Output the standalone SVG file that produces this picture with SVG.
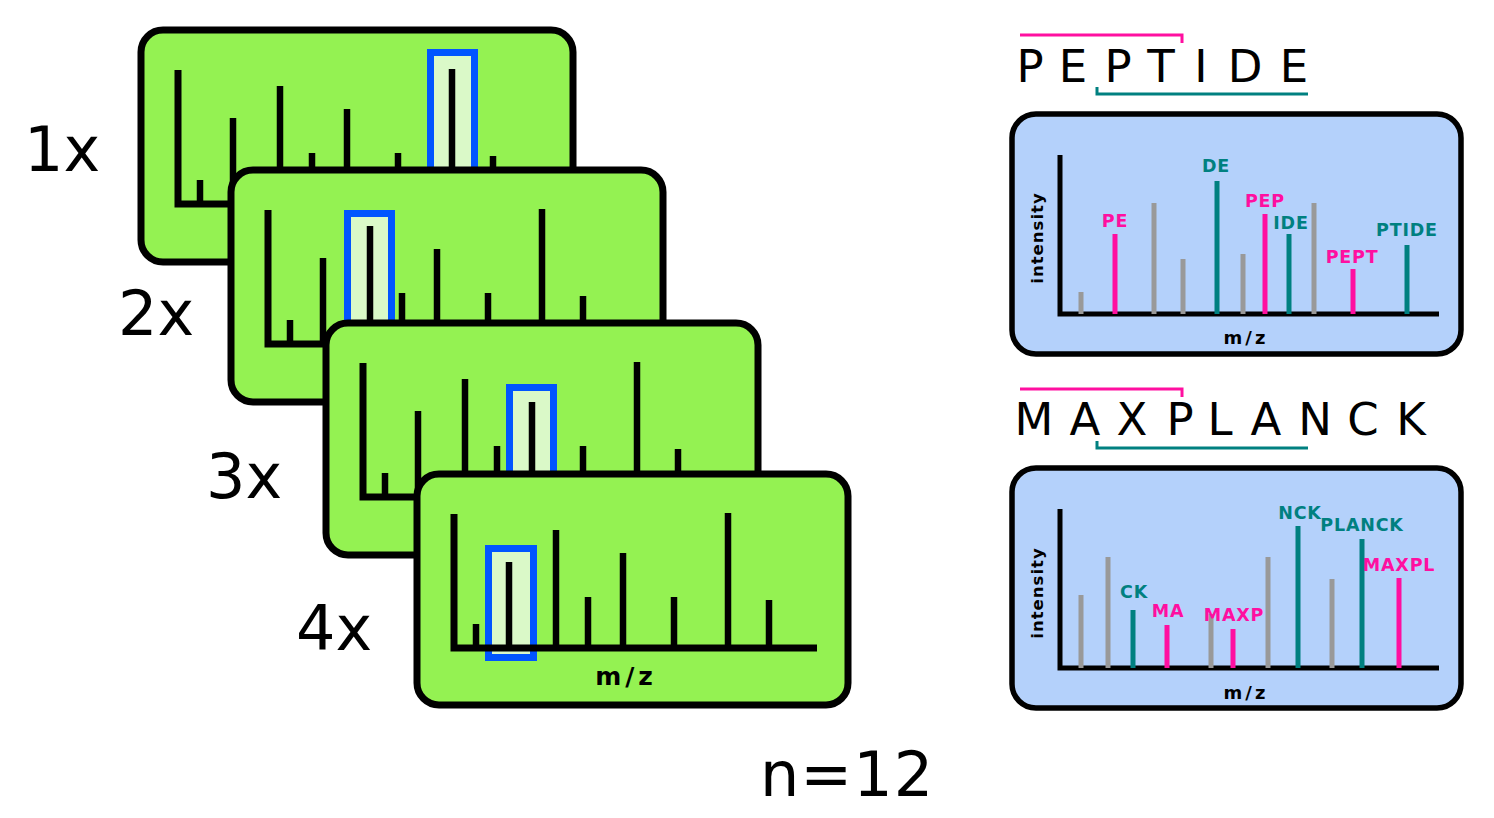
<svg xmlns="http://www.w3.org/2000/svg" xmlns:xlink="http://www.w3.org/1999/xlink" width="1494" height="818" viewBox="0 0 1494 818">
<style>
.panel{fill:#94F252;stroke:#000;stroke-width:7}
.hl{fill:#DAF9C8;stroke:#0055FF;stroke-width:7}
.ax{fill:none;stroke:#000;stroke-width:7}
.pk{stroke:#000;stroke-width:6.5}
.big{font-family:"DejaVu Sans",Verdana,sans-serif;font-size:62px;fill:#000}
.seq{font-family:"DejaVu Sans",Verdana,sans-serif;font-size:45px;fill:#000;text-anchor:middle}
.mz{font-family:"DejaVu Sans",Verdana,sans-serif;font-weight:bold;fill:#000;text-anchor:middle}
.bpanel{fill:#B4D1FB;stroke:#000;stroke-width:5.5}
.bax{fill:none;stroke:#000;stroke-width:5}
.g{stroke:#999;stroke-width:5}
.p{stroke:#FF0FA0;stroke-width:5}
.t{stroke:#008080;stroke-width:5}
.lbl{font-family:"DejaVu Sans",Verdana,sans-serif;font-weight:bold;font-size:17.5px;letter-spacing:0.8px;text-anchor:middle}
.lp{fill:#FF0FA0}
.lt{fill:#008080}
.brp{fill:none;stroke:#FF0FA0;stroke-width:3}
.brt{fill:none;stroke:#008080;stroke-width:3}
</style>
<defs>
<g id="spec">
<path class="ax" d="M37,40 V174 H400"/>
<g class="pk">
<line x1="59" y1="150" x2="59" y2="174"/>
<line x1="92" y1="88" x2="92" y2="174"/>
<line x1="139" y1="56" x2="139" y2="174"/>
<line x1="171" y1="123" x2="171" y2="174"/>
<line x1="206" y1="79" x2="206" y2="174"/>
<line x1="257" y1="123" x2="257" y2="174"/>
<line x1="311" y1="39" x2="311" y2="174"/>
<line x1="352" y1="126" x2="352" y2="174"/>
</g>
</g>
</defs>

<g id="scan1" transform="translate(141,30)">
<rect class="panel" x="0" y="0" width="432" height="232" rx="22"/>
<rect class="hl" x="289.5" y="22.5" width="44" height="161"/>
<use xlink:href="#spec"/>
</g>
<g id="scan2" transform="translate(231,170)">
<rect class="panel" x="0" y="0" width="432" height="232" rx="22"/>
<rect class="hl" x="116.5" y="43.5" width="44" height="140"/>
<use xlink:href="#spec"/>
</g>
<g id="scan3" transform="translate(326,323)">
<rect class="panel" x="0" y="0" width="432" height="232" rx="22"/>
<rect class="hl" x="183.5" y="64.5" width="44" height="119"/>
<use xlink:href="#spec"/>
</g>
<g id="scan4" transform="translate(417,474)">
<rect class="panel" x="0" y="0" width="431" height="231" rx="22"/>
<rect class="hl" x="71.5" y="74.5" width="45" height="109"/>
<use xlink:href="#spec"/>
<text class="mz" x="209" y="211" font-size="25" letter-spacing="4">m/z</text>
</g>

<g id="labels">
<text class="big" x="24" y="171">1x</text>
<text class="big" x="118" y="335">2x</text>
<text class="big" x="206" y="498">3x</text>
<text class="big" x="296" y="650">4x</text>
<text class="big" x="760" y="796" letter-spacing="1">n=12</text>
</g>

<g id="peptide-seq">
<path class="brp" d="M1020,35 H1182 V43"/>
<text class="seq" y="82"><tspan x="1030">P</tspan><tspan x="1073">E</tspan><tspan x="1118">P</tspan><tspan x="1161">T</tspan><tspan x="1201">I</tspan><tspan x="1245">D</tspan><tspan x="1294">E</tspan></text>
<path class="brt" d="M1097,87 V94 H1308"/>
</g>

<g id="peptide-spectrum">
<rect class="bpanel" x="1012" y="114" width="449" height="240" rx="24"/>
<path class="bax" d="M1060,155 V314 H1439"/>
<line class="g" x1="1081" y1="292" x2="1081" y2="314"/>
<line class="p" x1="1115" y1="234" x2="1115" y2="314"/>
<line class="g" x1="1154" y1="203" x2="1154" y2="314"/>
<line class="g" x1="1183" y1="259" x2="1183" y2="314"/>
<line class="t" x1="1217" y1="181" x2="1217" y2="314"/>
<line class="g" x1="1243" y1="254" x2="1243" y2="314"/>
<line class="p" x1="1265" y1="214" x2="1265" y2="314"/>
<line class="t" x1="1289" y1="234" x2="1289" y2="314"/>
<line class="g" x1="1314" y1="203" x2="1314" y2="314"/>
<line class="p" x1="1353" y1="269" x2="1353" y2="314"/>
<line class="t" x1="1407" y1="245" x2="1407" y2="314"/>
<text class="lbl lp" x="1115" y="227">PE</text>
<text class="lbl lt" x="1216" y="172">DE</text>
<text class="lbl lp" x="1265" y="207">PEP</text>
<text class="lbl lt" x="1291" y="229">IDE</text>
<text class="lbl lp" x="1352" y="263">PEPT</text>
<text class="lbl lt" x="1407" y="236">PTIDE</text>
<text class="mz" x="1246" y="344" font-size="18" letter-spacing="3">m/z</text>
<text class="mz" font-size="16.5" letter-spacing="1" transform="translate(1043,238) rotate(-90)">intensity</text>
</g>

<g id="maxplanck-seq">
<path class="brp" d="M1020,389 H1182 V397"/>
<text class="seq" y="435"><tspan x="1034">M</tspan><tspan x="1085">A</tspan><tspan x="1132">X</tspan><tspan x="1180">P</tspan><tspan x="1220">L</tspan><tspan x="1266">A</tspan><tspan x="1315">N</tspan><tspan x="1363">C</tspan><tspan x="1411">K</tspan></text>
<path class="brt" d="M1097,441 V448 H1308"/>
</g>

<g id="maxplanck-spectrum">
<rect class="bpanel" x="1012" y="468" width="449" height="240" rx="24"/>
<path class="bax" d="M1060,509 V668 H1439"/>
<line class="g" x1="1081" y1="595" x2="1081" y2="668"/>
<line class="g" x1="1108" y1="557" x2="1108" y2="668"/>
<line class="t" x1="1133" y1="610" x2="1133" y2="668"/>
<line class="p" x1="1167" y1="625" x2="1167" y2="668"/>
<line class="g" x1="1211" y1="614" x2="1211" y2="668"/>
<line class="p" x1="1233" y1="629" x2="1233" y2="668"/>
<line class="g" x1="1268" y1="557" x2="1268" y2="668"/>
<line class="t" x1="1298" y1="526" x2="1298" y2="668"/>
<line class="g" x1="1332" y1="579" x2="1332" y2="668"/>
<line class="t" x1="1362" y1="539" x2="1362" y2="668"/>
<line class="p" x1="1399" y1="578" x2="1399" y2="668"/>
<text class="lbl lt" x="1134" y="598">CK</text>
<text class="lbl lp" x="1168" y="617">MA</text>
<text class="lbl lp" x="1234" y="621">MAXP</text>
<text class="lbl lt" x="1300" y="519">NCK</text>
<text class="lbl lt" x="1362" y="531">PLANCK</text>
<text class="lbl lp" x="1399" y="571">MAXPL</text>
<text class="mz" x="1246" y="699" font-size="18" letter-spacing="3">m/z</text>
<text class="mz" font-size="16.5" letter-spacing="1" transform="translate(1043,593) rotate(-90)">intensity</text>
</g>
</svg>
